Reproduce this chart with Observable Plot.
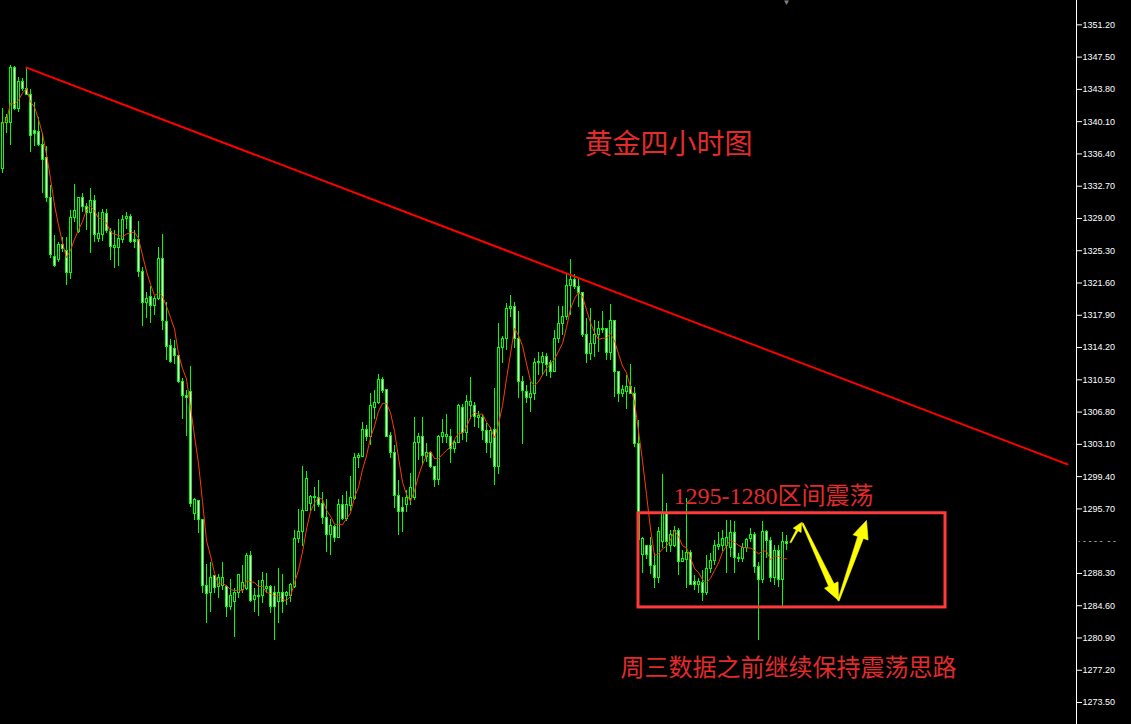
<!DOCTYPE html>
<html><head><meta charset="utf-8">
<script src="https://cdn.jsdelivr.net/npm/d3@7"></script>
<script src="https://cdn.jsdelivr.net/npm/@observablehq/plot@0.6"></script>
<style>
html,body{margin:0;padding:0;background:#000;overflow:hidden}
#chart{width:1131px;height:724px}
svg{display:block}
</style></head><body><div id="chart"></div>
<script>
// 4-hour gold candles (index 0 = leftmost bar)
const opens = [
1334.7,1339.9,1339.9,1346.3,1341.5,1344.6,1343.9,1343.2,1339.0,1338.9,
1337.4,1335.9,1331.3,1324.6,1324.2,1326.0,1325.3,1322.7,1329.0,1327.4,
1331.3,1330.3,1329.6,1331.0,1326.7,1327.1,1329.5,1327.5,1325.6,1325.6,
1326.5,1328.9,1329.2,1326.5,1326.5,1322.9,1319.3,1320.0,1319.0,1319.8,
1324.4,1317.1,1314.4,1314.0,1313.2,1310.2,1308.7,1309.1,1295.1,1296.6,
1294.4,1286.9,1286.1,1288.0,1286.7,1286.9,1286.8,1284.5,1285.0,1286.1,
1286.4,1286.5,1290.3,1285.2,1285.7,1285.7,1286.5,1286.7,1286.0,1285.0,
1286.0,1285.7,1285.7,1286.7,1292.2,1293.0,1295.5,1296.3,1297.1,1297.0,
1296.3,1294.7,1292.7,1293.6,1292.4,1296.1,1294.5,1296.0,1296.8,1301.5,
1301.6,1304.7,1304.0,1307.3,1307.8,1310.5,1309.3,1304.1,1302.1,1297.2,
1295.8,1296.1,1296.8,1297.0,1303.3,1303.9,1301.6,1302.1,1300.5,1299.0,
1303.9,1303.9,1303.9,1302.6,1303.3,1307.3,1304.4,1307.5,1307.5,1306.1,
1306.1,1304.6,1303.2,1304.7,1300.5,1314.2,1315.2,1318.6,1318.8,1315.2,
1310.2,1309.1,1308.4,1308.9,1312.4,1312.4,1313.1,1312.4,1311.4,1315.2,
1316.9,1317.7,1321.3,1322.0,1321.1,1320.4,1315.6,1313.5,1314.6,1315.6,
1316.2,1316.3,1313.6,1317.2,1311.4,1308.9,1309.1,1309.7,1308.9,1303.1,
1290.4,1291.4,1291.4,1289.2,1287.8,1291.9,1295.2,1291.5,1291.5,1293.2,
1289.6,1289.8,1290.7,1287.3,1287.0,1287.2,1286.0,1288.8,1289.7,1291.3,
1291.4,1291.5,1291.2,1292.9,1290.1,1289.9,1291.2,1292.3,1292.7,1289.0,
1287.6,1293.0,1292.0,1287.8,1290.9,1287.5,1291.9];
const highs = [
1341.6,1340.9,1346.5,1346.4,1345.2,1345.1,1346.2,1343.8,1342.3,1340.6,
1338.7,1337.2,1332.8,1327.1,1326.3,1326.8,1326.8,1329.9,1332.9,1331.4,
1331.9,1330.7,1332.4,1331.6,1329.7,1330.0,1330.0,1327.9,1327.6,1328.9,
1329.3,1329.7,1329.5,1327.6,1328.7,1323.4,1320.5,1321.2,1320.0,1325.7,
1327.2,1319.4,1315.1,1315.0,1313.3,1310.7,1309.3,1312.0,1296.9,1296.6,
1294.5,1289.3,1289.6,1288.1,1288.2,1289.5,1286.9,1287.6,1286.6,1288.2,
1289.2,1290.6,1290.8,1286.6,1287.5,1288.4,1288.3,1286.9,1286.8,1288.9,
1288.2,1286.2,1287.2,1293.2,1295.6,1300.6,1300.0,1297.2,1298.2,1299.0,
1297.6,1296.8,1294.5,1293.8,1296.8,1297.2,1297.7,1299.4,1302.1,1302.0,
1305.6,1305.3,1308.9,1309.3,1311.1,1310.8,1309.4,1304.5,1303.0,1298.9,
1297.0,1297.8,1299.8,1306.2,1304.4,1306.2,1303.2,1302.2,1300.5,1304.1,
1306.0,1306.5,1304.8,1303.5,1307.7,1307.7,1308.7,1310.8,1307.9,1306.9,
1306.4,1305.5,1305.0,1309.5,1316.9,1315.5,1319.3,1320.2,1319.4,1318.3,
1310.9,1309.9,1310.2,1313.0,1313.6,1313.6,1313.5,1312.7,1316.2,1318.9,
1318.9,1322.7,1324.3,1322.6,1322.2,1320.5,1317.5,1318.7,1317.3,1317.2,
1318.3,1316.4,1319.1,1317.3,1311.4,1309.9,1311.0,1312.2,1309.6,1305.8,
1292.4,1291.5,1292.4,1290.6,1293.6,1299.7,1296.3,1293.2,1293.7,1293.5,
1290.9,1296.9,1290.9,1288.1,1287.7,1288.6,1290.3,1290.6,1292.1,1293.0,
1293.2,1294.4,1294.4,1294.2,1290.6,1291.7,1292.3,1293.5,1293.0,1289.5,
1294.2,1293.2,1292.4,1291.5,1291.5,1293.0,1292.7];
const lows = [
1334.2,1338.7,1337.4,1341.4,1341.2,1343.5,1343.1,1336.6,1337.2,1337.2,
1331.9,1330.8,1324.4,1323.4,1324.0,1325.1,1321.3,1322.0,1328.5,1327.3,
1329.7,1327.6,1325.0,1326.3,1326.3,1326.4,1327.3,1324.2,1323.3,1323.5,
1326.1,1327.7,1326.1,1325.6,1322.2,1316.6,1317.5,1317.0,1317.9,1319.6,
1316.1,1312.7,1312.4,1312.2,1310.1,1306.0,1304.0,1295.9,1294.4,1292.9,
1286.0,1282.6,1283.8,1286.0,1285.4,1286.4,1283.3,1284.1,1281.0,1285.4,
1286.0,1286.4,1285.0,1283.8,1283.4,1284.9,1286.0,1283.7,1280.6,1282.6,
1283.7,1284.6,1285.0,1286.6,1291.7,1291.4,1295.4,1295.4,1295.4,1295.9,
1293.9,1290.7,1290.3,1291.9,1292.3,1294.4,1294.2,1295.4,1296.7,1300.3,
1301.6,1303.4,1303.0,1305.9,1307.7,1308.9,1303.9,1301.5,1295.8,1292.7,
1293.0,1295.3,1296.1,1296.7,1301.3,1300.7,1301.0,1300.3,1298.1,1298.4,
1303.2,1303.2,1300.9,1302.1,1303.2,1303.5,1303.3,1305.9,1305.0,1304.9,
1303.5,1302.1,1301.5,1298.4,1299.7,1312.4,1313.9,1317.7,1314.1,1308.4,
1303.1,1307.8,1306.7,1308.1,1311.0,1311.0,1310.9,1310.7,1311.4,1314.7,
1315.6,1317.3,1317.9,1320.8,1318.8,1315.4,1312.4,1312.7,1313.1,1313.6,
1315.8,1312.7,1312.7,1308.5,1307.9,1308.5,1307.1,1308.9,1302.7,1291.2,
1288.3,1289.9,1288.2,1286.6,1287.2,1291.2,1290.7,1290.7,1291.3,1288.1,
1289.5,1286.6,1286.9,1286.4,1286.0,1285.1,1285.8,1288.3,1289.2,1290.9,
1290.8,1288.3,1290.1,1288.3,1289.6,1289.5,1290.7,1291.9,1288.3,1280.6,
1287.2,1290.0,1287.3,1286.9,1286.7,1284.5,1290.9];
const closes = [
1339.9,1340.5,1346.3,1341.6,1344.6,1343.9,1343.2,1338.5,1338.7,1337.4,
1335.7,1331.3,1324.8,1323.5,1326.0,1325.5,1322.7,1329.0,1329.9,1331.3,
1330.3,1329.6,1331.0,1327.1,1327.2,1329.6,1327.6,1325.7,1325.8,1326.6,
1328.8,1329.2,1326.3,1326.3,1322.9,1319.3,1319.8,1319.0,1319.8,1324.4,
1317.2,1314.3,1312.5,1313.2,1310.2,1308.7,1308.4,1296.3,1296.7,1294.4,
1286.9,1285.9,1287.8,1286.6,1287.8,1287.8,1284.4,1285.7,1286.0,1288.1,
1287.2,1290.3,1285.1,1285.7,1285.6,1287.4,1286.7,1284.5,1284.4,1286.0,
1285.0,1286.0,1287.0,1292.2,1293.1,1295.5,1299.1,1297.1,1297.0,1296.2,
1294.7,1292.7,1293.7,1292.4,1296.1,1294.5,1296.2,1296.9,1301.5,1301.8,
1304.7,1304.0,1307.5,1307.8,1310.5,1309.2,1304.0,1302.1,1297.2,1295.3,
1295.3,1296.9,1298.1,1303.3,1303.9,1301.8,1302.1,1300.5,1299.0,1303.9,
1304.4,1304.2,1302.6,1303.2,1307.5,1304.4,1307.9,1307.9,1306.2,1306.3,
1304.6,1303.2,1304.6,1300.5,1314.2,1315.2,1318.6,1318.8,1315.2,1310.2,
1309.2,1308.4,1308.9,1312.4,1312.5,1313.1,1312.2,1311.4,1315.2,1316.9,
1317.7,1321.3,1322.0,1321.1,1320.4,1315.6,1313.5,1314.6,1315.6,1316.3,
1316.3,1313.6,1317.2,1311.4,1308.9,1309.3,1309.7,1308.9,1303.1,1292.1,
1292.3,1290.4,1289.1,1287.8,1293.1,1295.2,1291.9,1292.7,1293.2,1289.6,
1290.0,1290.7,1287.0,1287.0,1287.3,1286.0,1288.8,1289.7,1291.4,1291.6,
1292.3,1292.4,1292.9,1290.1,1289.9,1291.2,1292.1,1292.7,1289.0,1287.6,
1293.0,1292.0,1287.8,1290.9,1287.5,1291.9,1291.7];

// right price axis labels (1292.00 is hidden in the picture)
const yTicks = [1351.2,1347.5,1343.8,1340.1,1336.4,1332.7,1329.0,1325.3,1321.6,1317.9,
  1314.2,1310.5,1306.8,1303.1,1299.4,1295.7,1288.3,1284.6,1280.9,1277.2,1273.5];
const hiddenTick = [1292.0];

// annotations in data units (bar index, price)
const trendIdx = [6, 266.25];
const trendPrice = [1346.3, 1300.8];
const boxIdx = [159, 235.75];
const boxPrice = [1295.2, 1284.4];
const arrowTailIdx = [197.0, 200.0, 209.0];
const arrowTailPrice = [1291.86, 1294.04, 1285.21];
const arrowTipIdx = [199.75, 209.0, 216.0];
const arrowTipPrice = [1294.15, 1285.21, 1294.38];
const labels = ["黄金四小时图", "1295-1280区间震荡", "周三数据之前继续保持震荡思路"];
const labelIdx = [166.5, 167.75, 154.5];
const labelPrice = [1337.4, 1297.1, 1277.4];

// ---- layout / style ----
const W = 1131, H = 724, MR = 55;
const xDomain = [-0.5, 268.5];
const yDomain = [1270.98, 1353.99];
const GREEN = "#00ff00";
const arrowShape = [ // px: tail width, shaft width near head, head half width, head length
  {w0: 1.2, w1: 2, hw: 4.5, hl: 9},
  {w0: 1.5, w1: 6, hw: 7.5, hl: 17},
  {w0: 1.5, w1: 6, hw: 8, hl: 18}
];
const labelStyle = [
  {size: 28, anchor: "middle"},
  {size: 24, anchor: "start"},
  {size: 24, anchor: "start"}
];

const candles = opens.map((o, i) => ({i, open: o, high: highs[i], low: lows[i], close: closes[i]}));
const trend = trendIdx.map((x, k) => ({x, y: trendPrice[k]}));
const box = [{x1: boxIdx[0], x2: boxIdx[1], y1: boxPrice[0], y2: boxPrice[1]}];

const xs = d3.scaleLinear(xDomain, [0, W - MR]);
const ys = d3.scaleLinear(yDomain, [H, 0]);
const arrowPts = [];
arrowTailIdx.forEach((ti, k) => {
  const t = [xs(ti), ys(arrowTailPrice[k])], p = [xs(arrowTipIdx[k]), ys(arrowTipPrice[k])];
  const s = arrowShape[k];
  const len = Math.hypot(p[0] - t[0], p[1] - t[1]);
  const u = [(p[0] - t[0]) / len, (p[1] - t[1]) / len], n = [-u[1], u[0]];
  const b = [p[0] - u[0] * s.hl, p[1] - u[1] * s.hl];
  const pts = [
    [t[0] + n[0] * s.w0 / 2, t[1] + n[1] * s.w0 / 2],
    [b[0] + n[0] * s.w1 / 2, b[1] + n[1] * s.w1 / 2],
    [b[0] + n[0] * s.hw, b[1] + n[1] * s.hw],
    p,
    [b[0] - n[0] * s.hw, b[1] - n[1] * s.hw],
    [b[0] - n[0] * s.w1 / 2, b[1] - n[1] * s.w1 / 2],
    [t[0] - n[0] * s.w0 / 2, t[1] - n[1] * s.w0 / 2]
  ];
  pts.forEach(q => arrowPts.push({id: k, x: xs.invert(q[0]), y: ys.invert(q[1])}));
});

const textMarks = labels.map((txt, k) => Plot.text([txt], {
  x: () => labelIdx[k], y: () => labelPrice[k], text: d => d,
  textAnchor: labelStyle[k].anchor, lineAnchor: "middle",
  fontSize: labelStyle[k].size, fill: "#e32b2b",
  fontFamily: "'Liberation Serif','Noto Sans CJK SC',serif"
}));

const chart = Plot.plot({
  width: W, height: H,
  marginLeft: 0, marginRight: MR, marginTop: 0, marginBottom: 0,
  x: {domain: xDomain, axis: null},
  y: {domain: yDomain, axis: null},
  style: {background: "#000", color: "#fff", fontFamily: "'Liberation Sans',sans-serif", overflow: "visible"},
  marks: [
    Plot.ruleX(candles, {x: "i", y1: "low", y2: "high", stroke: GREEN, strokeWidth: 1, shapeRendering: "crispEdges"}),
    // body outline (green), then the 1px inner fill: white = falling bar, black = rising bar
    Plot.rect(candles, {
      x1: d => d.i - 0.375, x2: d => d.i + 0.375, y1: "open", y2: "close",
      insetTop: -0.5, insetBottom: -0.5, fill: GREEN, shapeRendering: "crispEdges"
    }),
    Plot.rect(candles, {
      x1: d => d.i - 0.375, x2: d => d.i + 0.375, y1: "open", y2: "close",
      insetLeft: 1, insetRight: 1, insetTop: 0.5, insetBottom: 0.5,
      fill: d => d.close > d.open ? "#000000" : "#ffffff", shapeRendering: "crispEdges"
    }),
    Plot.lineY(candles, Plot.windowY({k: 5, anchor: "end", reduce: "mean"}, {x: "i", y: "close", stroke: "#ff3c00", strokeWidth: 1})),
    Plot.line(trend, {x: "x", y: "y", stroke: "#ff0000", strokeWidth: 2}),
    Plot.rect(box, {x1: "x1", x2: "x2", y1: "y1", y2: "y2", fill: "none", stroke: "#ff3a3a", strokeWidth: 3}),
    Plot.line(arrowPts, {x: "x", y: "y", z: "id", fill: "#ffff00", stroke: "#ffff00", strokeWidth: 0.6, curve: "linear-closed"}),
    ...textMarks,
    Plot.ruleX([xDomain[1]], {stroke: "#ffffff", strokeWidth: 1}),
    Plot.axisY(yTicks, {anchor: "right", tickSize: 5, tickPadding: 1, tickFormat: d => d.toFixed(2), fontSize: 9, color: "#ffffff"}),
    Plot.text(hiddenTick, {y: d => d, frameAnchor: "right", dx: 1, text: () => "· - - - -  - -", textAnchor: "start", fill: "#cccccc", fontSize: 9}),
    Plot.text([candles.length - 1], {x: d => d, frameAnchor: "top", text: () => "▼", lineAnchor: "top", fill: "#808080", fontSize: 8, dy: -1})
  ]
});
document.getElementById("chart").append(chart);
</script>
</body></html>
